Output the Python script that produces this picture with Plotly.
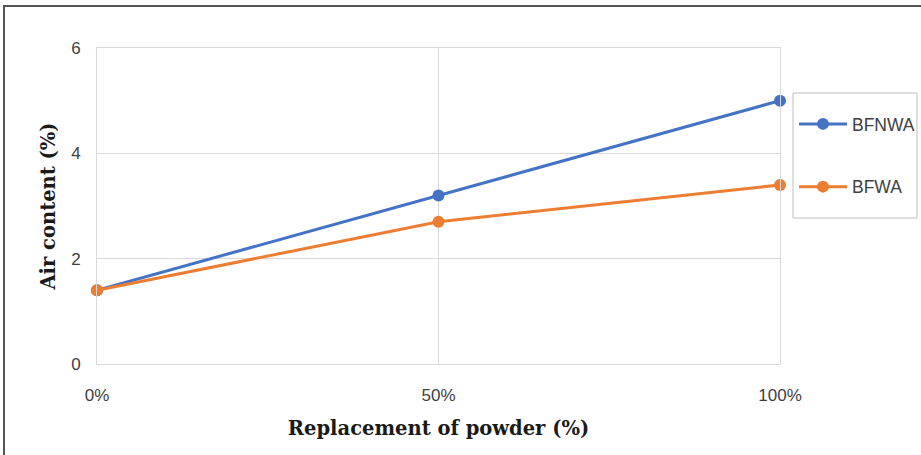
import plotly.graph_objects as go

categories = ["0%", "50%", "100%"]
bfnwa = [1.4, 3.2, 5.0]
bfwa = [1.4, 2.7, 3.4]
y_ticks = [0, 2, 4, 6]

BLUE = "#4472C4"
ORANGE = "#ED7D31"
tick_font = dict(family="Liberation Sans, Arial", size=17, color="#404040")
title_font = dict(family="DejaVu Serif, serif", size=19.5, color="#1a1a1a")

fig = go.Figure()
fig.add_trace(go.Scatter(x=categories, y=bfnwa, name="BFNWA", mode="lines+markers",
                         line=dict(color=BLUE, width=3), marker=dict(size=12, color=BLUE),
                         cliponaxis=False, legendgroup="a"))
fig.add_trace(go.Scatter(x=categories, y=bfwa, name="BFWA", mode="lines+markers",
                         line=dict(color=ORANGE, width=3), marker=dict(size=12, color=ORANGE),
                         cliponaxis=False, legendgroup="b"))

L, R, T, B = 97, 780, 48, 364
W, H = 921, 455
pw, ph = R - L, B - T

def px(x):
    return (x - L) / pw

def py(y):
    return (B - y) / ph

# outer frame (top/left visible)
fig.add_shape(type="rect", xref="paper", yref="paper",
              x0=px(4), x1=px(940), y0=py(470), y1=py(6),
              line=dict(color="#555555", width=2), fillcolor="rgba(0,0,0,0)", layer="below")
# legend frame
fig.add_shape(type="rect", xref="paper", yref="paper",
              x0=px(793), x1=px(917), y0=py(218), y1=py(93),
              line=dict(color="#bfbfbf", width=1), fillcolor="rgba(0,0,0,0)", layer="below")

fig.update_layout(
    width=W, height=H,
    margin=dict(l=L, r=W - R, t=T, b=H - B, autoexpand=False),
    paper_bgcolor="white", plot_bgcolor="white",
    showlegend=True,
    legend=dict(x=px(794), y=py(106), xanchor="left", yanchor="top",
                bgcolor="rgba(0,0,0,0)", borderwidth=0,
                font=dict(family="Liberation Sans, Arial", size=17.5, color="#404040"),
                tracegroupgap=37, itemwidth=48),
    xaxis=dict(type="category", range=[0, 2], tickvals=categories, ticktext=categories,
               showgrid=True, gridcolor="#d9d9d9", gridwidth=1,
               showline=True, linecolor="#d9d9d9", linewidth=1, mirror=True,
               ticks="", tickfont=tick_font, ticklabelstandoff=16,
               title=dict(text="<b>Replacement of powder (%)</b>", font=title_font, standoff=16),
               zeroline=False, automargin=False),
    yaxis=dict(range=[0, 6], tickvals=y_ticks,
               showgrid=True, gridcolor="#d9d9d9", gridwidth=1,
               showline=True, linecolor="#d9d9d9", linewidth=1, mirror=True,
               ticks="", tickfont=tick_font, ticklabelstandoff=12,
               title=dict(text="<b>Air content (%)</b>", font=title_font, standoff=10),
               zeroline=False, automargin=False),
)

fig.write_html("out.html")
